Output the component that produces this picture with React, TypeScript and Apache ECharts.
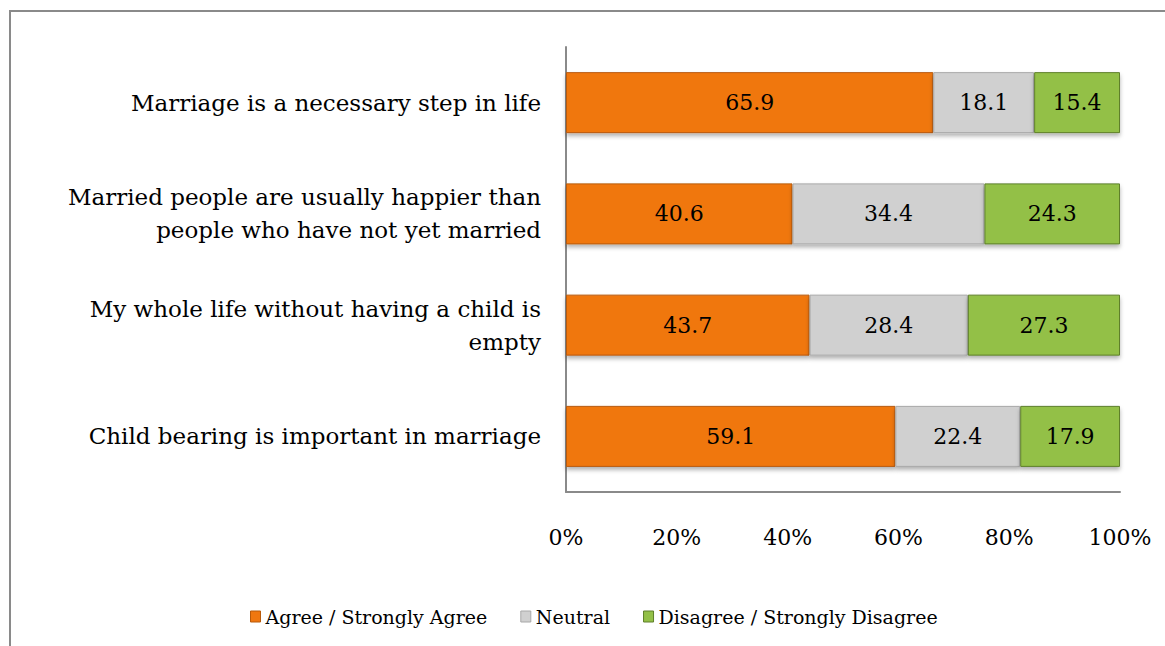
import React, { useEffect, useRef } from "react";
import * as echarts from "echarts";

const categories = [
  "Marriage is a necessary step in life",
  "Married people are usually happier than\npeople who have not yet married",
  "My whole life without having a child is\nempty",
  "Child bearing is important in marriage",
];
const agree = [65.9, 40.6, 43.7, 59.1];
const neutral = [18.1, 34.4, 28.4, 22.4];
const disagree = [15.4, 24.3, 27.3, 17.9];
const seriesNames = ["Agree / Strongly Agree", "Neutral", "Disagree / Strongly Disagree"];
const xTicks = [0, 20, 40, 60, 80, 100];

const FONT = "DejaVu Serif";

export default function App() {
  const ref = useRef<HTMLDivElement>(null);
  useEffect(() => {
    if (!ref.current) return;
    const chart = echarts.init(ref.current, null, { renderer: "svg" });
    const raw = [agree, neutral, disagree];
    const totals = categories.map((_, i) => agree[i] + neutral[i] + disagree[i]);
    const colors = ["#F07710", "#D0D0D0", "#93C047"];
    const borders = ["#B85A0A", "#A8A8A8", "#5E7F2A"];
    const series = raw.map((arr, s) => ({
      name: seriesNames[s],
      type: "bar",
      stack: "total",
      barWidth: 61,
      data: arr.map((v, i) => ({ value: (v / totals[i]) * 100, raw: v })),
      itemStyle: {
        color: colors[s],
        borderColor: borders[s],
        borderWidth: 1,
        shadowColor: "rgba(0,0,0,0.3)",
        shadowBlur: 4,
        shadowOffsetY: 3,
      },
      label: {
        show: true,
        position: "inside",
        fontFamily: FONT,
        fontSize: 22,
        color: "#000",
        formatter: (p: any) => p.data.raw.toFixed(1),
      },
    }));
    chart.setOption({
      animation: false,
      backgroundColor: "#fff",
      textStyle: { fontFamily: FONT },
      graphic: [
        {
          type: "rect",
          shape: { x: 10, y: 11, width: 1200, height: 700 },
          style: { fill: "none", stroke: "#8a8a8a", lineWidth: 2 },
          silent: true,
        },
      ],
      grid: { left: 566, right: 45, top: 47, bottom: 154 },
      legend: {
        bottom: 15,
        left: 245,
        itemWidth: 10,
        itemHeight: 11,
        itemGap: 33,
        itemTextGap: 4,
        icon: "rect",
        textStyle: { fontFamily: FONT, fontSize: 19, color: "#000" },
        data: seriesNames.map((n, i) => ({ name: n, itemStyle: { color: colors[i], borderColor: borders[i], borderWidth: 1 } })),
      },
      xAxis: {
        type: "value",
        min: 0,
        max: 100,
        interval: 20,
        axisLine: { show: true, lineStyle: { color: "#8a8a8a", width: 2 } },
        axisTick: { show: false },
        splitLine: { show: false },
        axisLabel: {
          margin: 34,
          fontFamily: FONT,
          fontSize: 22,
          color: "#000",
          formatter: (v: number) => (xTicks.includes(v) ? v + "%" : ""),
        },
      },
      yAxis: {
        type: "category",
        inverse: true,
        data: categories,
        axisLine: { show: true, lineStyle: { color: "#8a8a8a", width: 2 } },
        axisTick: { show: false },
        axisLabel: {
          margin: 25,
          fontFamily: FONT,
          fontSize: 23,
          lineHeight: 33,
          color: "#000",
          align: "right",
        },
      },
      series,
    });
    return () => chart.dispose();
  }, []);
  return (
    <div
      ref={ref}
      style={{ position: "fixed", left: 0, top: 0, width: 1165, height: 646 }}
    />
  );
}
